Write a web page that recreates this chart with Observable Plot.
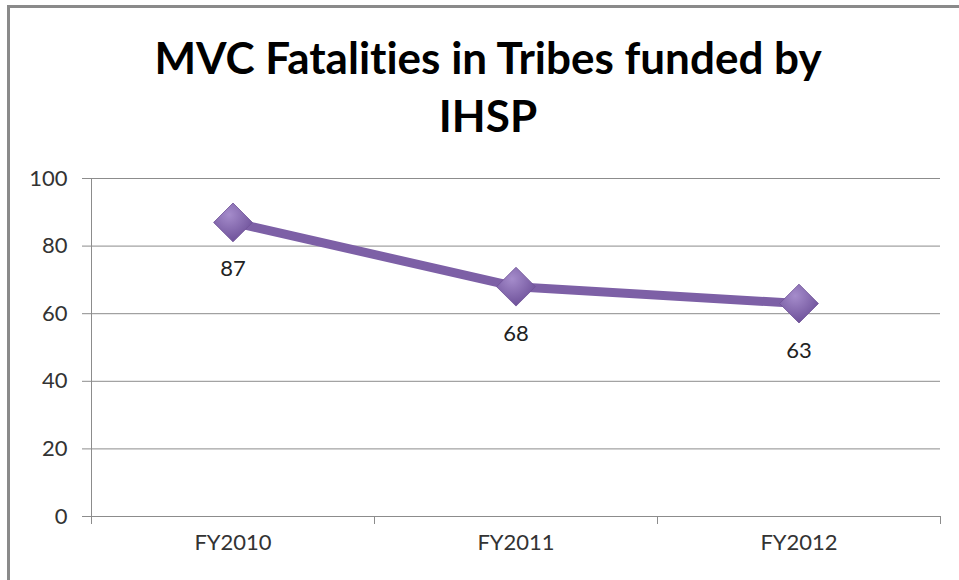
<!DOCTYPE html>
<html>
<head>
<meta charset="utf-8">
<script src="https://cdn.jsdelivr.net/npm/d3@7"></script>
<script src="https://cdn.jsdelivr.net/npm/@observablehq/plot@0.6"></script>
<style>
  body { margin: 0; background: #fff; }
  #wrap { position: relative; width: 959px; height: 580px; overflow: hidden; background: #fff; font-family: Lato, "Open Sans", sans-serif; font-variant-ligatures: none; }
  #border { position: absolute; left: 7px; top: 5px; width: 1100px; height: 1100px; border: 3px solid #8a8a8a; box-sizing: border-box; }
  #title { position: absolute; left: 11px; width: 954px; top: 28px; text-align: center; font-weight: 700; font-size: 44px; line-height: 58px; color: #000; font-variant-ligatures: none; }
  #chart { position: absolute; left: 0; top: 150px; }
</style>
</head>
<body>
<div id="wrap">
  <div id="border"></div>
  <div id="title">MVC Fatalities in Tribes funded by<br>IHSP</div>
  <div id="chart"></div>
</div>
<script>
const categories = ["FY2010", "FY2011", "FY2012"];
const values = [87, 68, 63];
const yTicks = [0, 20, 40, 60, 80, 100];

const data = categories.map((c, i) => ({ category: c, pos: i + 0.5, value: values[i] }));

const defs = () => {
  const s = d3.create("svg:defs");
  const g = s.append("radialGradient").attr("id", "mk").attr("cx", "40%").attr("cy", "30%").attr("r", "75%");
  g.append("stop").attr("offset", "0%").attr("stop-color", "#a58ccb");
  g.append("stop").attr("offset", "100%").attr("stop-color", "#6a4d96");
  const f = s.append("filter").attr("id", "sh").attr("x", "-50%").attr("y", "-50%").attr("width", "200%").attr("height", "200%");
  f.append("feDropShadow").attr("dx", 1).attr("dy", 2).attr("stdDeviation", 2).attr("flood-color", "#000").attr("flood-opacity", 0.35);
  return s.node();
};

const plot = Plot.plot({
  width: 959,
  height: 430,
  marginTop: 28,
  marginBottom: 64,
  marginLeft: 91,
  marginRight: 19,
  style: { fontFamily: "Lato, 'Open Sans', sans-serif", color: "#333", background: "transparent", fontVariantLigatures: "none" },
  x: { type: "linear", domain: [0, categories.length] },
  y: { domain: [0, 100] },
  marks: [
    defs,
    Plot.gridY(yTicks, { stroke: "#8c8c8c", strokeOpacity: 1, strokeWidth: 1 }),
    Plot.frame({ anchor: "left", stroke: "#8c8c8c" }),
    Plot.axisY(yTicks, { tickSize: 9, tickPadding: 15, fontSize: 22, stroke: "#8c8c8c", fill: "#333", label: null }),
    Plot.axisX(d3.range(categories.length + 1), { tickSize: 8, tickFormat: () => "", stroke: "#8c8c8c", label: null }),
    Plot.axisX(data.map(d => d.pos), { tickSize: 0, tickPadding: 18, fontSize: 22, fill: "#333", tickFormat: (d) => categories[Math.floor(d)], label: null }),
    Plot.line(data, { x: "pos", y: "value", stroke: "#7d60a6", strokeWidth: 9, strokeLinejoin: "round" }),
    Plot.dot(data, { x: "pos", y: "value", symbol: "diamond2", r: 17.5, fill: "url(#mk)", stroke: "#6e5297", strokeWidth: 0.8, style: "filter:url(#sh)" }),
    Plot.text(data, { x: "pos", y: "value", text: d => String(d.value), dy: 47, fontSize: 22, fill: "#222" })
  ]
});
document.getElementById("chart").appendChild(plot);
</script>
</body>
</html>
